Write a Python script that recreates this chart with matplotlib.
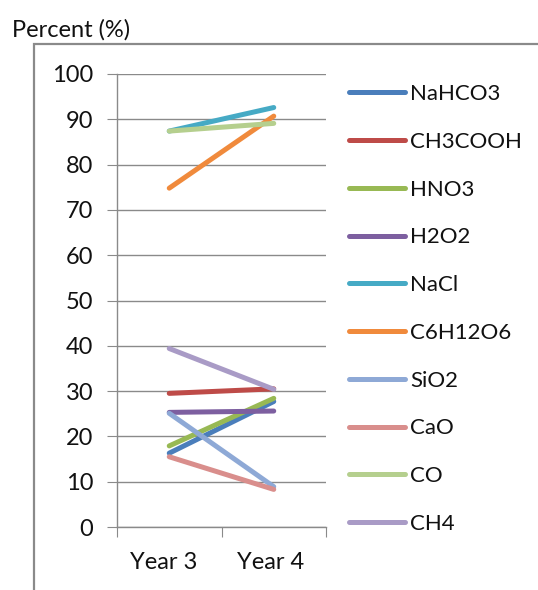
import matplotlib.pyplot as plt
from matplotlib.patches import Rectangle

plt.rcParams['font.family'] = ['Lato', 'DejaVu Sans']

years = ["Year 3", "Year 4"]
compounds = ["NaHCO3", "CH3COOH", "HNO3", "H2O2", "NaCl",
             "C6H12O6", "SiO2", "CaO", "CO", "CH4"]
year3 = [16.3, 29.5, 17.9, 25.3, 87.4, 74.8, 25.1, 15.5, 87.4, 39.4]
year4 = [27.7, 30.5, 28.4, 25.6, 92.6, 90.7, 8.9, 8.3, 89.1, 30.4]
colors = ["#4A7EBB", "#BE4B48", "#98B954", "#7D5FA0", "#46AAC5",
          "#F08A3C", "#8EA9D6", "#D98E8C", "#B5CF8E", "#A99BC6"]

fig = plt.figure(figsize=(5.38, 5.90), dpi=100)

# chart frame (runs off the right and bottom edges)
fig.patches.append(Rectangle((34/538, -0.1), 1.2, 1 - 44/590 + 0.1,
                             transform=fig.transFigure, fill=False,
                             edgecolor="#8a8a8a", linewidth=1.6))
fig.text(12/538, 1 - 37/590, "Percent (%)", fontsize=17, color="#111111")

ax = fig.add_axes([117/538, 1 - 527/590, 209/538, 453/590])
x = range(len(years))
for name, a, b, c in zip(compounds, year3, year4, colors):
    ax.plot(x, [a, b], color=c, lw=3.6, solid_capstyle="round", label=name)

ax.set_xlim(-0.5, 1.5)
ax.set_ylim(0, 100)
ax.set_yticks(range(0, 101, 10))
ax.set_xticks([-0.5, 0.5, 1.5])
ax.set_xticks([-0.05, 0.97], minor=True)
ax.set_xticklabels(["", "", ""])
ax.set_xticklabels(years, minor=True)
ax.tick_params(axis="x", which="minor", length=0, pad=18, labelsize=17,
               labelcolor="#111111")
ax.tick_params(axis="x", which="major", length=7, color="#8a8a8a")
ax.tick_params(axis="y", length=7, color="#8a8a8a", pad=10, labelsize=17,
               labelcolor="#111111")
ax.grid(axis="y", color="#8a8a8a", lw=1)
ax.set_axisbelow(True)
for s in ["top", "right"]:
    ax.spines[s].set_visible(False)
for s in ["left", "bottom"]:
    ax.spines[s].set_color("#8a8a8a")
    ax.spines[s].set_linewidth(1)

leg = ax.legend(loc="upper left", bbox_to_anchor=(349/538, 1 - 84/590),
                bbox_transform=fig.transFigure, frameon=False, fontsize=16,
                handlelength=2.5, handletextpad=0.25, labelspacing=1.25,
                borderpad=0, borderaxespad=0)
for t in leg.get_texts():
    t.set_color("#111111")

fig.savefig("out.png", dpi=100)
